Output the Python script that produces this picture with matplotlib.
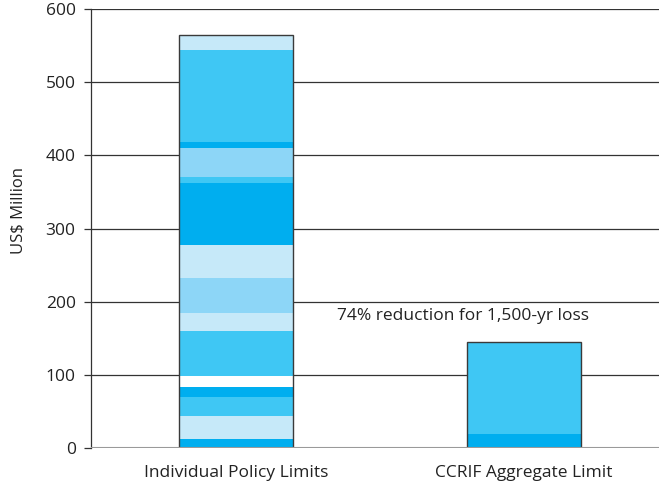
import matplotlib.pyplot as plt
import numpy as np

plt.rcParams['font.family'] = ['Open Sans', 'DejaVu Sans']

# palette used in the stacks
DARK = '#00aeef'
MID = '#3fc7f4'
LIGHTMID = '#8dd6f7'
LIGHT = '#c6e9f9'
WHITE = '#ffffff'

categories = ['Individual Policy Limits', 'CCRIF Aggregate Limit']

# segment tops (US$ million), bottom to top
policy_tops = [12, 44, 70, 84, 98, 160, 185, 232, 278, 362, 370, 410, 418, 544, 564]
policy_colors = [DARK, LIGHT, MID, DARK, WHITE, MID, LIGHT, LIGHTMID, LIGHT,
                 DARK, MID, LIGHTMID, DARK, MID, LIGHT]

ccrif_tops = [19, 145]
ccrif_colors = [DARK, MID]

yticks = [0, 100, 200, 300, 400, 500, 600]
note = '74% reduction for 1,500-yr loss'

fig = plt.figure(figsize=(6.59, 4.86), dpi=100)
ax = fig.add_axes([0.138, 0.078, 0.862, 0.9035])

width = 0.396
x_pos = [0, 1]

for xc, tops, cols in [(x_pos[0], policy_tops, policy_colors),
                       (x_pos[1], ccrif_tops, ccrif_colors)]:
    bottoms = [0] + tops[:-1]
    heights = np.array(tops) - np.array(bottoms)
    ax.bar([xc] * len(tops), heights, width=width, bottom=bottoms,
           color=cols, edgecolor='none', zorder=3)
    # outline around the whole stack
    ax.bar(xc, tops[-1], width=width, bottom=0, facecolor='none',
           edgecolor='#3a3a3a', linewidth=1.0, zorder=4)

for yv in yticks[1:]:
    ax.axhline(yv, color='#333333', linewidth=0.9, zorder=1)
ax.axhline(0, color='#9a9a9a', linewidth=1.5, zorder=5)

ax.set_xlim(-0.503, 1.469)
ax.set_ylim(0, 600)
ax.set_yticks(yticks)
ax.set_xticks(x_pos)
ax.set_xticklabels(categories, fontsize=12.5, color='#222222')
ax.tick_params(axis='x', length=0, pad=12)
ax.tick_params(axis='y', length=5, width=0.9, color='#333333', labelsize=12.5,
               labelcolor='#222222', pad=6)

for s in ['top', 'right', 'bottom']:
    ax.spines[s].set_visible(False)
ax.spines['left'].set_color('#333333')
ax.spines['left'].set_linewidth(0.9)

ax.set_ylabel('US$ Million', fontsize=12, color='#222222')
ax.yaxis.set_label_coords(-0.113, 0.542)

ax.text(0.788, 180, note, ha='center', va='center', fontsize=12.5, color='#222222')

fig.savefig('out.png', dpi=100)
